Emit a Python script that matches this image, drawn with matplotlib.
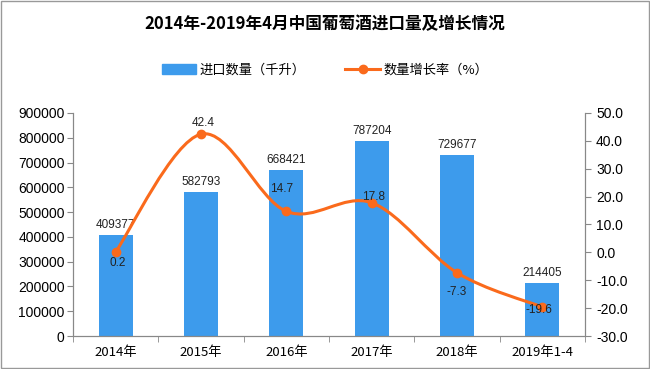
import numpy as np
import matplotlib
matplotlib.use('Agg')
import matplotlib.pyplot as plt
from matplotlib.path import Path
from matplotlib.patches import PathPatch, Patch
from matplotlib.lines import Line2D

plt.rcParams['font.family'] = ['Liberation Sans', 'Noto Sans CJK SC', 'DejaVu Sans']

categories = ['2014年', '2015年', '2016年', '2017年', '2018年', '2019年1-4']
volume = [409377, 582793, 668421, 787204, 729677, 214405]
growth = [0.2, 42.4, 14.7, 17.8, -7.3, -19.6]

bar_color = '#3d9bec'
line_color = '#fa6a1c'

fig = plt.figure(figsize=(6.5, 3.69), dpi=100)
ax = fig.add_axes([0.1123, 0.0894, 0.7877, 0.6044])
ax2 = ax.twinx()

x = np.arange(len(categories))
ax.bar(x, volume, width=0.4, color=bar_color, zorder=2)
for xi, v in zip(x, volume):
    ax.text(xi, v + 16000, str(v), ha='center', va='bottom', fontsize=8.5, color='#222222')

ax.set_xlim(-0.5, len(categories) - 0.5)
ax.set_ylim(0, 900000)
ax.set_yticks(np.arange(0, 900001, 100000))
ax.set_yticklabels([str(v) for v in range(0, 900001, 100000)], fontsize=10)
ax.set_xticks(x)
ax.set_xticklabels(categories, fontsize=9.5, family=['Noto Sans CJK SC'])
ax.set_xticks(np.arange(-0.5, len(categories)), minor=True)
ax.tick_params(axis='x', which='major', length=0, pad=7)
ax.tick_params(axis='x', which='minor', length=4, color='#888888')
ax.tick_params(axis='y', length=4, color='#888888', pad=2)

# smooth curve through the growth points (Catmull-Rom as Bezier segments)
pts = np.column_stack([x, growth]).astype(float)
verts = [tuple(pts[0])]
codes = [Path.MOVETO]
for i in range(len(pts) - 1):
    p0 = pts[i - 1] if i > 0 else pts[i]
    p1, p2 = pts[i], pts[i + 1]
    p3 = pts[i + 2] if i + 2 < len(pts) else pts[i + 1]
    c1 = p1 + (p2 - p0) / 6
    c2 = p2 - (p3 - p1) / 6
    verts += [tuple(c1), tuple(c2), tuple(p2)]
    codes += [Path.CURVE4] * 3
ax2.add_patch(PathPatch(Path(verts, codes), fill=False, edgecolor=line_color, lw=2.2, zorder=3))
ax2.plot(x, growth, 'o', color=line_color, ms=6, zorder=4)

offsets = [(0.02, -4), (0.02, 4), (-0.06, 8), (0.02, 2), (0, -7), (-0.04, -1)]
for xi, g, (dx, dy) in zip(x, growth, offsets):
    ax2.text(xi + dx, g + dy, f'{g:.1f}', ha='center', va='center', fontsize=8.5, color='#222222', zorder=5)

ax2.set_ylim(-30, 50)
ax2.set_yticks(np.arange(-30, 51, 10))
ax2.set_yticklabels([f'{v:.1f}' for v in range(-30, 51, 10)], fontsize=10)
ax2.tick_params(axis='y', length=4, color='#888888', pad=4)

for a in (ax, ax2):
    a.spines['top'].set_visible(False)
    for s in ['left', 'right', 'bottom']:
        a.spines[s].set_color('#888888')

fig.text(0.5, 0.935, '2014年-2019年4月中国葡萄酒进口量及增长情况', ha='center', va='center',
         fontsize=12, fontweight='bold', family=['Noto Sans CJK SC'])

handles = [Patch(color=bar_color), Line2D([], [], color=line_color, lw=2.2, marker='o', ms=6)]
fig.legend(handles, ['进口数量（千升）', '数量增长率（%）'], loc='center', bbox_to_anchor=(0.5, 0.81),
           ncol=2, frameon=False, prop={'family': 'Noto Sans CJK SC', 'size': 9.5},
           handlelength=2.6, columnspacing=3, handletextpad=0.3)

fig.patches.append(plt.Rectangle((0.002, 0.003), 0.996, 0.994, transform=fig.transFigure,
                                 fill=False, edgecolor='#999999', lw=1))

fig.savefig('out.png', dpi=100)
